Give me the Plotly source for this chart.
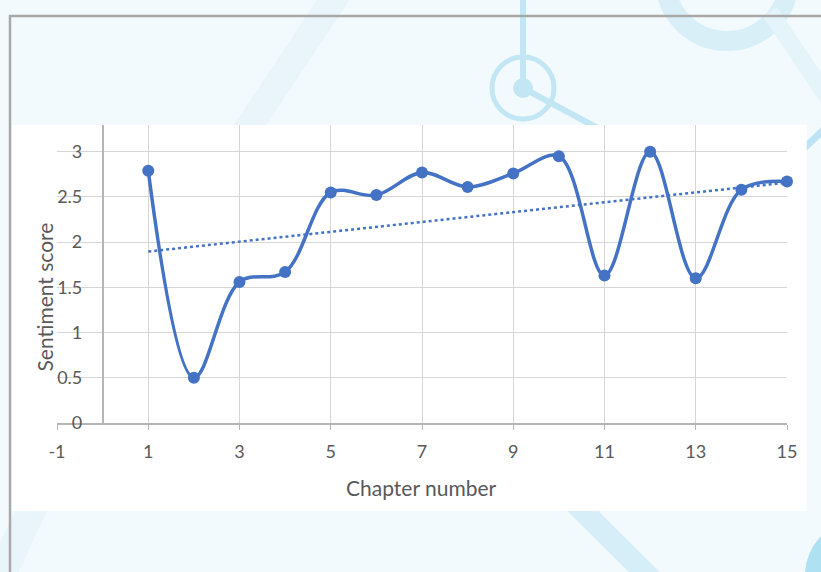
import numpy as np
import plotly.graph_objects as go

# Sentiment score per chapter
chapters = [1, 2, 3, 4, 5, 6, 7, 8, 9, 10, 11, 12, 13, 14, 15]
scores = [2.79, 0.5, 1.56, 1.67, 2.55, 2.52, 2.77, 2.61, 2.76, 2.95, 1.63, 3.0, 1.6, 2.58, 2.67]

x_ticks = [-1, 1, 3, 5, 7, 9, 11, 13, 15]
x_labels = ["-1", "1", "3", "5", "7", "9", "11", "13", "15"]
y_ticks = [0, 0.5, 1, 1.5, 2, 2.5, 3]
y_labels = ["0", "0.5", "1", "1.5", "2", "2.5", "3"]

W, H = 821, 572
PL, PR, PT, PB = 57, 787, 125, 423  # plot area in pixels

BLUE = "#4472C4"
GRID = "#D6D6D6"
AXIS = "#B5B5B5"
TEXT = "#595959"
FONT = "Lato"


def px(x):
    return (x - PL) / (PR - PL)


def py(y):
    return (PB - y) / (PB - PT)


# linear trend of the scores
slope, intercept = np.polyfit(chapters, scores, 1)
trend_x = [chapters[0], chapters[-1]]
trend_y = [slope * v + intercept for v in trend_x]

fig = go.Figure()
fig.add_trace(go.Scatter(
    x=trend_x, y=trend_y, mode="lines",
    line=dict(color=BLUE, width=2.5, dash="3px,3px"),
    showlegend=False, hoverinfo="skip", cliponaxis=False,
))
fig.add_trace(go.Scatter(
    x=chapters, y=scores, mode="lines+markers",
    line=dict(color=BLUE, width=3.5, shape="spline", smoothing=1),
    marker=dict(color=BLUE, size=12),
    showlegend=False, hoverinfo="skip", cliponaxis=False,
))

shapes = []


def poly(points, color):
    d = "M " + " L ".join(f"{px(a):.5f},{py(b):.5f}" for a, b in points) + " Z"
    shapes.append(dict(type="path", xref="paper", yref="paper", path=d,
                       fillcolor=color, line=dict(width=0), layer="below"))


def seg(a, b, c, d, color, w):
    shapes.append(dict(type="line", xref="paper", yref="paper",
                       x0=px(a), y0=py(b), x1=px(c), y1=py(d),
                       line=dict(color=color, width=w), layer="below"))


def circ(cx, cy, r, color, fill=None, w=0):
    shapes.append(dict(type="circle", xref="paper", yref="paper",
                       x0=px(cx - r), x1=px(cx + r), y0=py(cy + r), y1=py(cy - r),
                       fillcolor=fill if fill else "rgba(0,0,0,0)",
                       line=dict(color=color, width=w), layer="below"))


# background decoration
poly([(320, -5), (353, -5), (250, 150), (217, 150)], "#E9F5FB")
poly([(20, 500), (52, 500), (15, 580), (-17, 580)], "#E9F5FB")
seg(523, -5, 523, 88, "#C3E6F4", 6)
circ(523, 88, 31, "#C3E6F4", w=5)
circ(523, 88, 10, "#C3E6F4", fill="#C3E6F4")
seg(523, 88, 605, 132, "#C3E6F4", 6)
circ(727, -21, 62, "#D9EFF8", w=20)
seg(770, 12, 840, 116, "#E4F4FA", 17)
seg(800, 152, 830, 124, "#BDE4F4", 7)
poly([(540, 484), (571, 484), (690, 602), (659, 602)], "#D6EEF8")
circ(860, 575, 55, "#AEE1F1", fill="#AEE1F1")

# frame
shapes.append(dict(type="rect", xref="paper", yref="paper",
                   x0=px(10), x1=px(840), y0=py(600), y1=py(16),
                   line=dict(color="#A8A8A8", width=2.5),
                   fillcolor="rgba(0,0,0,0)", layer="below"))
# chart panel
shapes.append(dict(type="rect", xref="paper", yref="paper",
                   x0=px(12), x1=px(806.7), y0=py(511), y1=py(125),
                   line=dict(width=0), fillcolor="white", layer="below"))

annotations = [
    dict(text="Sentiment score", xref="paper", yref="paper",
         x=px(43.5), y=py(297), textangle=-90, showarrow=False,
         xanchor="center", yanchor="middle",
         font=dict(family=FONT, size=21, color=TEXT)),
    dict(text="Chapter number", xref="paper", yref="paper",
         x=px(421), y=py(487), showarrow=False,
         xanchor="center", yanchor="middle",
         font=dict(family=FONT, size=21, color=TEXT)),
]

fig.update_layout(
    width=W, height=H,
    margin=dict(l=PL, r=W - PR, t=PT, b=H - PB, pad=0),
    paper_bgcolor="#F3FAFD",
    plot_bgcolor="rgba(0,0,0,0)",
    shapes=shapes,
    annotations=annotations,
    font=dict(family=FONT, size=18, color=TEXT),
    xaxis=dict(
        range=[-1, 15], tickvals=x_ticks, ticktext=x_labels,
        showgrid=True, gridcolor=GRID,
        gridwidth=1.4, zeroline=False, showline=True, linecolor=AXIS,
        linewidth=1.5, ticks="outside", ticklen=5, tickcolor=AXIS,
        tickfont=dict(family=FONT, size=18, color=TEXT),
        ticklabelstandoff=7,
    ),
    yaxis=dict(
        range=[0, 3 * (PB - PT) / (PB - 151.7)], tickvals=y_ticks,
        ticktext=y_labels,
        anchor="free", position=1 / 16,
        showgrid=True, gridcolor=GRID, gridwidth=1.4, zeroline=False,
        showline=True, linecolor=AXIS, linewidth=1.5, ticks="",
        tickfont=dict(family=FONT, size=18, color=TEXT),
        ticklabelstandoff=16,
    ),
)

fig.write_html("out.html")
